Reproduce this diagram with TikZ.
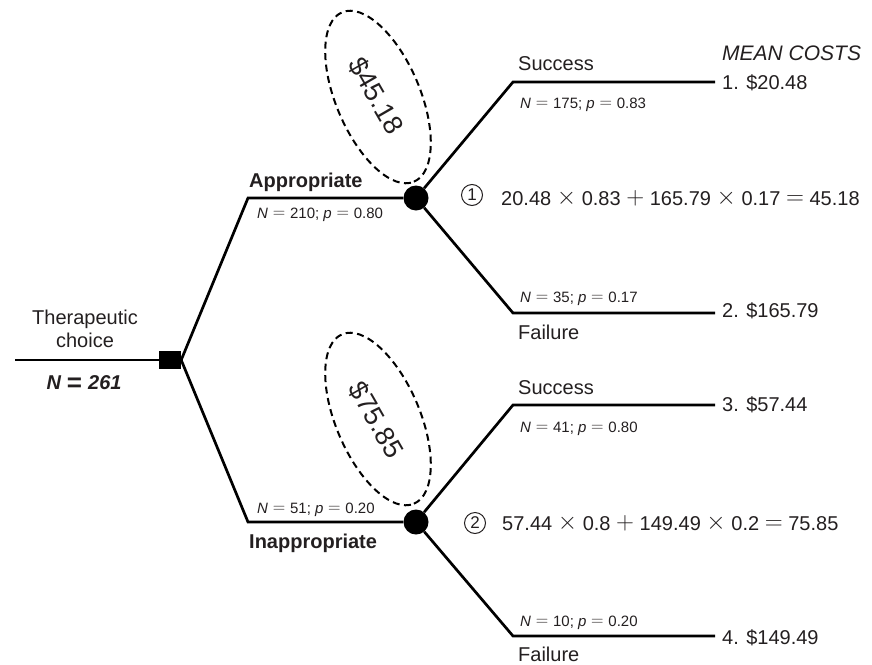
\documentclass[tikz,border=0pt]{standalone}
\usepackage{fontspec}
\setmainfont{Liberation Sans}
\usetikzlibrary{positioning, shapes.geometric}
\definecolor{treeink}{HTML}{231F20}
\tikzset{
  branch/.style={line width=2.7pt, draw=black},
  chance/.style={circle, fill=black, minimum size=25pt, inner sep=0pt},
  choice/.style={rectangle, fill=black, minimum width=22pt, minimum height=18pt, inner sep=0pt},
  txt/.style={anchor=base west, inner sep=0pt, text=treeink, font=\fontsize{20}{24}\selectfont},
  txtb/.style={txt, font=\fontsize{20}{24}\selectfont\bfseries},
  nplab/.style={txt, font=\fontsize{15}{18}\selectfont},
  num/.style={circle, draw=treeink, line width=1pt, minimum size=21pt, inner sep=0pt,
              text=treeink, font=\fontsize{17}{20}\selectfont},
  bubble/.style={ellipse, draw=black, line width=2pt, dash pattern=on 7pt off 4.5pt,
                 minimum width=184pt, minimum height=84pt},
  bubtxt/.style={inner sep=0pt, text=treeink, font=\fontsize{27}{30}\selectfont, rotate=-60},
}
% wide thin operators, as in the printed tree
\newcommand{\bigop}[1]{\hskip0.28em\raisebox{1pt}{\fontsize{24}{24}\selectfont$#1$}\hskip0.28em}
\newcommand{\bfeq}{\hskip0.3em\raisebox{-2pt}{\fontsize{26}{26}\selectfont\upshape=}\hskip0.3em}
\newcommand{\smeq}{\hskip0.32em\raisebox{0.6pt}{\fontsize{18}{18}\selectfont$=$}\hskip0.32em}
\newcommand{\nandp}[2]{\textit{N}\smeq#1; \textit{p}\smeq#2}

\begin{document}
\begin{tikzpicture}[x=1pt, y=-1pt]
  \useasboundingbox (0,0) rectangle (872,664);
  % decision node and chance nodes
  \node[choice] (dec) at (170,360) {};
  \node[chance] (ch1) at (416,198) {};
  \node[chance] (ch2) at (416,522) {};
  \coordinate (root) at (15,360);
  \coordinate (a1) at (248,198);
  \coordinate (a2) at (248,522);
  \coordinate (s1) at (513,82);  \coordinate (t1) at (715,82);
  \coordinate (f1) at (513,313); \coordinate (t2) at (715,313);
  \coordinate (s2) at (513,405); \coordinate (t3) at (715,405);
  \coordinate (f2) at (513,636); \coordinate (t4) at (715,636);
  \draw[branch] (root) -- (dec.west);
  \draw[branch] (dec.east) -- (a1) -- (ch1);
  \draw[branch] (dec.east) -- (a2) -- (ch2);
  \draw[branch] (ch1) -- (s1) -- (t1);
  \draw[branch] (ch1) -- (f1) -- (t2);
  \draw[branch] (ch2) -- (s2) -- (t3);
  \draw[branch] (ch2) -- (f2) -- (t4);
  % expected values
  \node[bubble, rotate=-67] (b1) at (378,97) {};
  \node[bubtxt] (v1) at (376,96) {\$45.18};
  \node[bubble, rotate=-67] (b2) at (378,419) {};
  \node[bubtxt] (v2) at (376,420) {\$75.85};
  % root labels
  \node[txt, anchor=base] (tc) at (85,324) {Therapeutic};
  \node[txt, anchor=base] (tc2) at (85,347) {choice};
  \node[txtb, anchor=base] (nn) at (84,389) {\itshape N\bfeq 261};
  % branch labels
  \node[txtb] (ap) at (249,187) {Appropriate};
  \node[nplab] (ap2) at (257,218) {\nandp{210}{0.80}};
  \node[nplab] (in2) at (257,513) {\nandp{51}{0.20}};
  \node[txtb] (in) at (249,548) {Inappropriate};
  \node[txt] (su1) at (518,70) {Success};
  \node[nplab] (su1n) at (520,108) {\nandp{175}{0.83}};
  \node[nplab] (fa1n) at (520,302) {\nandp{35}{0.17}};
  \node[txt] (fa1) at (518,339) {Failure};
  \node[txt] (su2) at (518,394) {Success};
  \node[nplab] (su2n) at (520,432) {\nandp{41}{0.80}};
  \node[nplab] (fa2n) at (520,626) {\nandp{10}{0.20}};
  \node[txt] (fa2) at (518,661) {Failure};
  % costs
  \node[txt, font=\fontsize{21}{25}\selectfont\itshape] (mc) at (722,60) {MEAN COSTS};
  \node[txt] (c1) at (722,89) {1. \$20.48};
  \node[txt] (c2) at (722,317) {2. \$165.79};
  \node[txt] (c3) at (722,411) {3. \$57.44};
  \node[txt] (c4) at (722,644) {4. \$149.49};
  % calculations
  \node[num] (n1) at (472,195) {1};
  \node[txt] (fm1) at (501,205) {20.48\bigop{\times}0.83\bigop{+}165.79\bigop{\times}0.17\bigop{=}45.18};
  \node[num] (n2) at (475,523) {2};
  \node[txt] (fm2) at (502,530) {57.44\bigop{\times}0.8\bigop{+}149.49\bigop{\times}0.2\bigop{=}75.85};
\end{tikzpicture}
\end{document}
